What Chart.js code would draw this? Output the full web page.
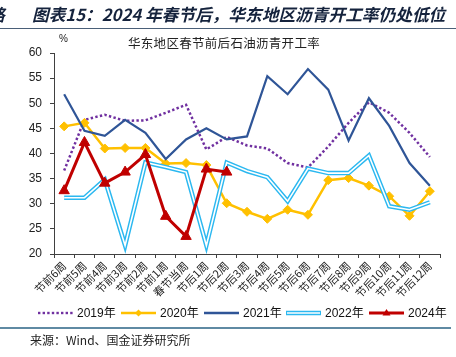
<!DOCTYPE html>
<html><head><meta charset="utf-8">
<script src="https://cdn.jsdelivr.net/npm/chart.js@4"></script>
<style>
html,body{margin:0;padding:0;background:#fff;width:456px;height:357px;overflow:hidden;}
body{position:relative;font-family:"Noto Sans CJK SC","Liberation Sans",sans-serif;}
canvas{position:absolute;left:0;top:0;}
.t{position:absolute;white-space:nowrap;}
#title{left:32px;top:2px;font-size:16.7px;line-height:24px;font-weight:bold;font-style:italic;color:#15233d;}
#cut{left:-12px;top:2px;font-size:16.7px;line-height:24px;font-weight:bold;font-style:italic;color:#15233d;}
#topline{position:absolute;left:0;top:28px;width:456px;height:1px;background:#4a5f78;}
#botline{position:absolute;left:0;top:327px;width:451px;height:2px;background:#5f8aa3;}
#ctitle{left:128px;top:35px;font-size:12.5px;line-height:16px;color:#222;letter-spacing:0.3px;}
#pct{left:59px;top:32px;font-size:10px;line-height:14px;color:#222;font-family:"Liberation Sans",sans-serif;}
#src{left:30px;top:332px;font-size:12px;line-height:16px;color:#222;}
</style></head>
<body>
<canvas id="c" width="456" height="357"></canvas>
<div id="cut" class="t">略</div>
<div id="title" class="t">图表15：2024 年春节后，华东地区沥青开工率仍处低位</div>
<div id="topline"></div>
<div id="ctitle" class="t">华东地区春节前后石油沥青开工率</div>
<div id="pct" class="t">%</div>
<div id="botline"></div>
<div id="src" class="t">来源：Wind、国金证券研究所</div>
<script>
const categories = ['节前6周','节前5周','节前4周','节前3周','节前2周','节前1周','春节当周','节后1周','节后2周','节后3周','节后4周','节后5周','节后6周','节后7周','节后8周','节后9周','节后10周','节后11周','节后12周'];
const s2019 = [36.6,46.7,47.7,46.5,46.6,48.1,49.7,40.8,43.3,41.6,41.0,38.1,37.2,41.4,46.1,50.2,48.1,44.1,39.3];
const s2020 = [45.4,46.1,41.0,41.1,41.1,38.0,38.1,37.7,30.1,28.4,27.0,28.8,27.8,34.7,35.1,33.6,31.5,27.6,32.5];
const s2021 = [51.8,44.5,43.5,46.7,44.1,38.9,42.8,45.0,42.8,43.4,55.4,51.8,56.8,52.7,42.6,51.0,45.5,38.1,33.6];
const s2022 = [31.2,31.2,34.8,21.7,38.2,37.3,36.3,21.7,38.2,36.5,35.3,30.5,37.0,36.1,36.1,39.6,29.5,28.8,30.3];
const s2024 = [32.6,42.2,34.1,36.3,39.8,27.5,23.5,36.9,36.3,null,null,null,null,null,null,null,null,null,null];
const seriesNames = ['2019年','2020年','2021年','2022年','2024年'];
const yMin = 20, yMax = 60, yStep = 5;

const C19='#7030A0', C20='#FFC000', C21='#2F5597', C22='#2BB8F0', C24='#C00000';

const legendPlugin = {
  id:'customLegend',
  afterDraw(chart){
    const ctx = chart.ctx;
    const y = 313;
    const xs = [38,121,204,286,369];
    const len = 35;
    ctx.save();
    xs.forEach((x0,i)=>{
      const x1 = x0+len;
      ctx.setLineDash([]);
      if(i===0){
        ctx.fillStyle=C19;
        for(let x=x0;x<x1;x+=4.6){ctx.fillRect(x,y-1.2,2.4,2.4);}
      } else if(i===1){
        ctx.strokeStyle=C20;ctx.lineWidth=2.5;
        ctx.beginPath();ctx.moveTo(x0,y);ctx.lineTo(x1,y);ctx.stroke();
        ctx.fillStyle=C20;ctx.beginPath();
        const cx=(x0+x1)/2;ctx.moveTo(cx,y-3.5);ctx.lineTo(cx+3.5,y);ctx.lineTo(cx,y+3.5);ctx.lineTo(cx-3.5,y);ctx.closePath();ctx.fill();
      } else if(i===2){
        ctx.strokeStyle=C21;ctx.lineWidth=2.5;
        ctx.beginPath();ctx.moveTo(x0,y);ctx.lineTo(x1,y);ctx.stroke();
      } else if(i===3){
        ctx.strokeStyle=C22;ctx.lineWidth=4.5;
        ctx.beginPath();ctx.moveTo(x0,y);ctx.lineTo(x1,y);ctx.stroke();
        ctx.strokeStyle='#fff';ctx.lineWidth=1.6;
        ctx.beginPath();ctx.moveTo(x0+1,y);ctx.lineTo(x1-1,y);ctx.stroke();
      } else {
        ctx.strokeStyle=C24;ctx.lineWidth=3;
        ctx.beginPath();ctx.moveTo(x0,y);ctx.lineTo(x1,y);ctx.stroke();
        ctx.fillStyle=C24;ctx.beginPath();
        const cx=(x0+x1)/2;ctx.moveTo(cx,y-4);ctx.lineTo(cx+4,y+2.5);ctx.lineTo(cx-4,y+2.5);ctx.closePath();ctx.fill();
      }
      ctx.fillStyle='#111';
      ctx.font='12px "Liberation Sans","Noto Sans CJK SC",sans-serif';
      ctx.textBaseline='middle';ctx.textAlign='left';
      ctx.fillText(seriesNames[i], x1+4, y+0.5);
    });
    ctx.restore();
  }
};

new Chart(document.getElementById('c'),{
  type:'line',
  data:{
    labels:categories,
    datasets:[
      {label:seriesNames[0],data:s2019,borderColor:C19,borderWidth:2.5,borderDash:[2.4,2.3],pointRadius:0,order:5},
      {label:seriesNames[1],data:s2020,borderColor:C20,backgroundColor:C20,borderWidth:2.5,pointStyle:'rectRot',pointRadius:4.5,pointBorderWidth:1,order:4},
      {label:seriesNames[2],data:s2021,borderColor:C21,borderWidth:2.2,pointRadius:0,order:3},
      {label:seriesNames[3],data:s2022,borderColor:C22,borderWidth:4.5,pointRadius:0,order:2},
      {label:'',data:s2022,borderColor:'#ffffff',borderWidth:1.6,pointRadius:0,order:1},
      {label:seriesNames[4],data:s2024,borderColor:C24,backgroundColor:C24,borderWidth:3,pointStyle:'triangle',pointRadius:6,pointBorderWidth:1,order:0}
    ]
  },
  options:{
    responsive:false,animation:false,
    layout:{padding:{top:53,right:16,left:0,bottom:0}},
    plugins:{legend:{display:false},tooltip:{enabled:false},title:{display:false}},
    elements:{line:{tension:0,borderJoinStyle:'miter'}},
    scales:{
      x:{
        offset:true,
        grid:{display:true,offset:true,drawOnChartArea:false,drawTicks:true,tickLength:4,color:'#404040'},
        border:{display:true,color:'#404040',width:1},
        ticks:{autoSkip:false,minRotation:45,maxRotation:45,padding:1,color:'#222',font:{size:11,family:'"Noto Sans CJK SC",sans-serif'}},
        afterFit(s){s.height=103;}
      },
      y:{
        min:yMin,max:yMax,
        grid:{display:true,drawOnChartArea:false,drawTicks:true,tickLength:4,color:'#404040'},
        border:{display:true,color:'#404040',width:1},
        ticks:{stepSize:yStep,padding:8,color:'#222',font:{size:12,family:'"Liberation Sans",sans-serif'}},
        afterFit(s){s.width=54;}
      }
    }
  },
  plugins:[legendPlugin]
});
</script>
</body></html>
